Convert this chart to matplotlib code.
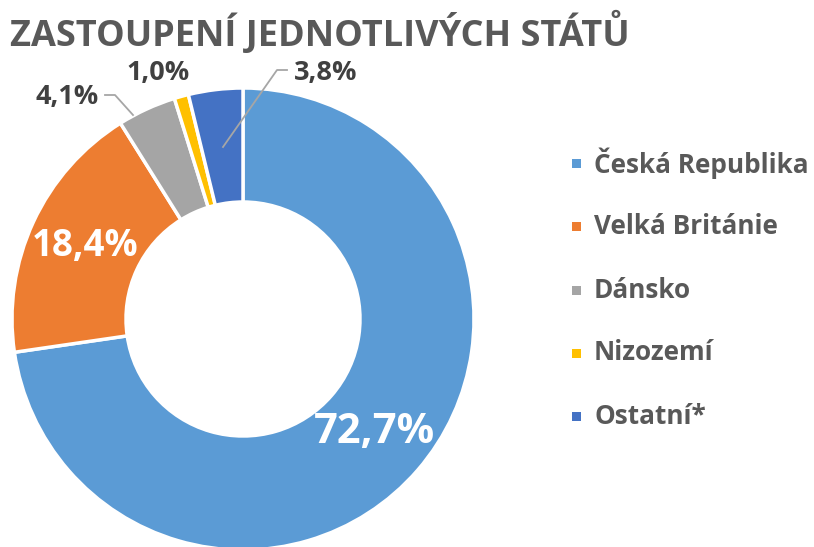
import matplotlib
matplotlib.use("Agg")
import matplotlib.pyplot as plt
import numpy as np

categories = ["Česká Republika", "Velká Británie", "Dánsko", "Nizozemí", "Ostatní*"]
values = [72.7, 18.4, 4.1, 1.0, 3.8]
labels = ["72,7%", "18,4%", "4,1%", "1,0%", "3,8%"]
colors = ["#5B9BD5", "#ED7D31", "#A5A5A5", "#FFC000", "#4472C4"]

FONT = "Open Sans"
W, H = 814, 547
fig = plt.figure(figsize=(W / 100, H / 100), dpi=100)
ax = fig.add_axes([0, 0, 1, 1])
ax.set_xlim(0, W)
ax.set_ylim(0, H)
ax.axis("off")

cx, cy = 243, H - 319
R, Rin = 231, 117
wedges, _ = ax.pie(values, colors=colors, startangle=90, counterclock=False,
                   radius=R, center=(cx, cy),
                   wedgeprops=dict(width=R - Rin, edgecolor="white", linewidth=2.5))
ax.set_xlim(0, W)
ax.set_ylim(0, H)
ax.set_aspect("equal")

# inner labels
rmid = (R + Rin) / 2
for i, size in [(0, 30), (1, 26.5)]:
    w = wedges[i]
    ang = np.deg2rad((w.theta1 + w.theta2) / 2)
    ax.text(cx + rmid * np.cos(ang), cy + rmid * np.sin(ang), labels[i],
            color="white", fontsize=size, fontweight="bold", family=FONT,
            ha="center", va="center")

dark = "#404040"
line_c = "#A6A6A6"
# 4,1%
ax.text(99, H - 97, labels[2], color=dark, fontsize=19.5, fontweight="bold",
        family=FONT, ha="right", va="center")
ax.plot([105, 115, 133], [H - 95, H - 95, H - 115], color=line_c, lw=1.3)
# 1,0%
ax.text(158, H - 73, labels[3], color=dark, fontsize=19.5, fontweight="bold",
        family=FONT, ha="center", va="center")
# 3,8%
ax.text(294, H - 73, labels[4], color=dark, fontsize=19.5, fontweight="bold",
        family=FONT, ha="left", va="center")
ax.plot([223, 277, 287], [H - 147, H - 70, H - 70], color=line_c, lw=1.3)

# title
fig.text(10 / W, 1 - 33 / H, "ZASTOUPENÍ JEDNOTLIVÝCH STÁTŮ", color="#595959",
         fontsize=26, fontweight="bold", family=FONT, ha="left", va="center")

# legend
ys = [163, 226, 290, 353, 416]
for cat, col, y in zip(categories, colors, ys):
    ax.add_patch(plt.Rectangle((572, H - y - 4.5), 9, 9, facecolor=col, edgecolor="none"))
    ax.text(594, H - y, cat, color="#595959", fontsize=18.8, fontweight="bold",
            family=FONT, ha="left", va="center")

fig.savefig("out.png", dpi=100, facecolor="white")
